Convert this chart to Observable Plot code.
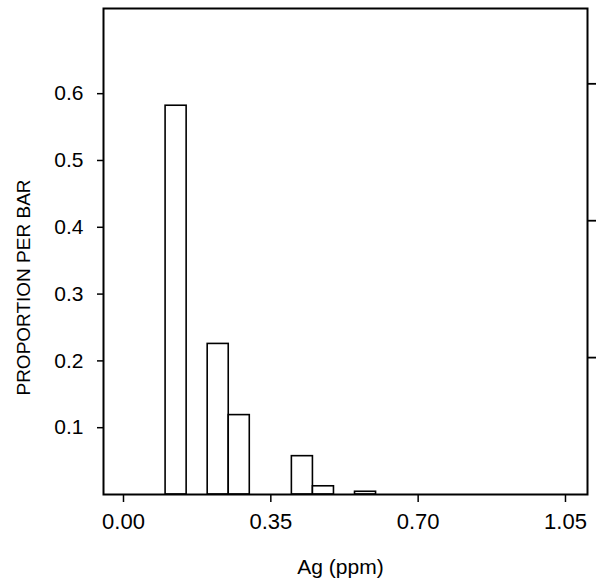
<!DOCTYPE html>
<html>
<head>
<meta charset="utf-8">
<script src="https://cdn.jsdelivr.net/npm/d3@7"></script>
<script src="https://cdn.jsdelivr.net/npm/@observablehq/plot@0.6"></script>
<style>
  html, body { margin: 0; padding: 0; background: white; }
</style>
</head>
<body>
<div id="chart"></div>
<script>
// Histogram bins of Ag (ppm), width 0.05
const binStarts = [0.10, 0.20, 0.25, 0.40, 0.45, 0.55];
const binWidth = 0.05;
const counts = [142, 55, 29, 14, 3, 1];
const yTicks = [0.1, 0.2, 0.3, 0.4, 0.5, 0.6];
const xTicks = [0.00, 0.35, 0.70, 1.05];
const rightCountTicks = [50, 100, 150];

const total = d3.sum(counts);
const table = binStarts.map((s, i) => ({x1: s, x2: s + binWidth, p: counts[i] / total}));

const chart = Plot.plot({
  width: 596,
  height: 585,
  marginLeft: 103,
  marginRight: 9,
  marginTop: 8,
  marginBottom: 91,
  style: {fontFamily: "'Liberation Sans', Arial, sans-serif", fontSize: "21px", color: "black", background: "white"},
  x: {domain: [-0.0475, 1.1023]},
  y: {domain: [0, 0.7275]},
  marks: [
    Plot.rect(table, {x1: "x1", x2: "x2", y1: 0, y2: "p", fill: "white", stroke: "black", strokeWidth: 1.6}),
    Plot.frame({stroke: "black", strokeWidth: 2}),
    Plot.axisY({ticks: yTicks, tickSize: 6, tickPadding: 14, tickFormat: d => d.toFixed(1), label: null, strokeWidth: 1.5, fontSize: 21}),
    Plot.axisY({anchor: "right", ticks: rightCountTicks.map(c => c / total), tickSize: 10, tickFormat: () => "", label: null, strokeWidth: 1.8}),
    Plot.axisX({ticks: xTicks, tickSize: 8, tickPadding: 11, tickFormat: d => d.toFixed(2), label: null, strokeWidth: 1.5, fontSize: 22}),
    Plot.text(["PROPORTION PER BAR"], {frameAnchor: "left", textAnchor: "middle", lineAnchor: "middle", rotate: -90, dx: -80, dy: 36, fontSize: 19, fill: "black"}),
    Plot.text(["Ag (ppm)"], {frameAnchor: "bottom", textAnchor: "middle", lineAnchor: "middle", dx: -5, dy: 73, fontSize: 21, fill: "black"})
  ]
});
document.getElementById("chart").appendChild(chart);
</script>
</body>
</html>
